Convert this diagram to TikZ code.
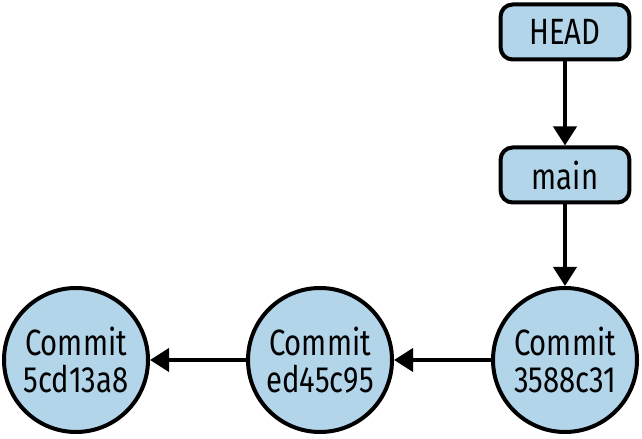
\documentclass[tikz,border=0pt]{standalone}
\usepackage{fontspec}
\setmainfont{Fira Sans}[FakeStretch=0.8]
\usetikzlibrary{arrows.meta}
\definecolor{gitblue}{RGB}{178,213,234}
\tikzset{
  commit/.style={circle,draw,line width=0.1cm,fill=gitblue,minimum size=3.6cm,
    inner sep=0pt,align=center,font=\fontsize{26}{26.5}\selectfont},
  refbox/.style={rectangle,rounded corners=0.3cm,draw,line width=0.1cm,fill=gitblue,
    minimum width=3.22cm,minimum height=1.375cm,font=\fontsize{26}{26.5}\selectfont},
  link/.style={line width=0.1cm,-{Triangle[length=0.48cm,width=0.58cm]}}
}
\begin{document}
\begin{tikzpicture}
  \useasboundingbox (0,0) rectangle (16.05,10.975);
  \node[commit] (ca) at (1.9,1.975) {Commit\\5cd13a8};
  \node[commit] (cb) at (8.0,1.975) {Commit\\ed45c95};
  \node[commit] (cc) at (14.125,1.975) {Commit\\3588c31};
  \node[refbox] (head) at (14.125,10.175) {HEAD};
  \node[refbox] (main) at (14.125,6.6) {main};

  \draw[link] (head) -- (main);
  \draw[link] (main) -- (cc);
  \draw[link] (cc) -- (cb);
  \draw[link] (cb) -- (ca);

\end{tikzpicture}
\end{document}
